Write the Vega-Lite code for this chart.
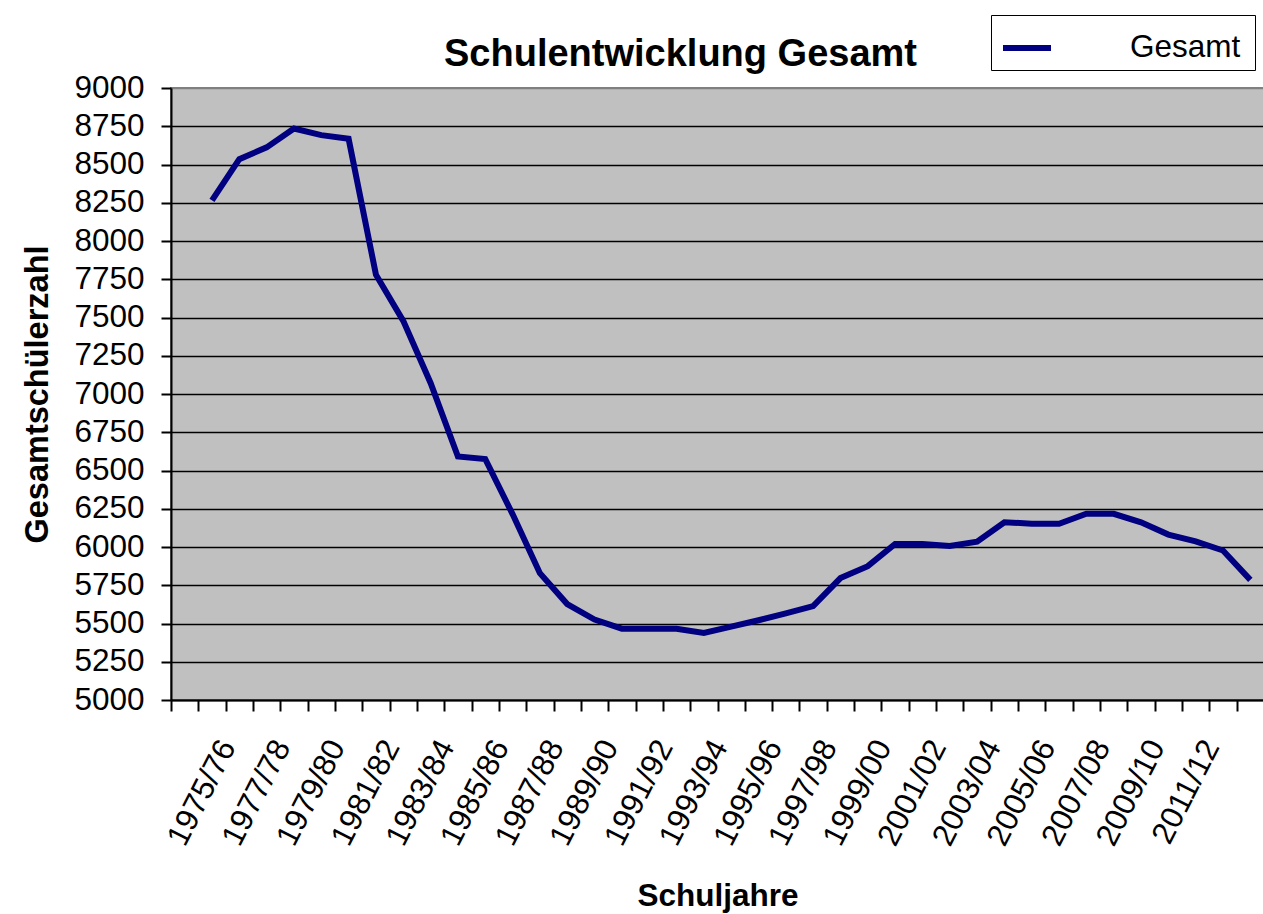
{
  "$schema": "https://vega.github.io/schema/vega-lite/v6.json",
  "width": 1093,
  "height": 612,
  "autosize": {"type": "none"},
  "padding": {"left": 171, "top": 88, "right": 0, "bottom": 214},
  "background": "white",
  "title": {
    "text": "Schulentwicklung Gesamt",
    "font": "Liberation Sans",
    "fontSize": 38,
    "fontWeight": "bold",
    "color": "black",
    "anchor": "middle",
    "dx": -37,
    "offset": -59
  },
  "data": {
    "values": [
      {"Schuljahr": "1975/76", "Gesamt": 8265, "Reihe": "Gesamt"},
      {"Schuljahr": "1976/77", "Gesamt": 8535, "Reihe": "Gesamt"},
      {"Schuljahr": "1977/78", "Gesamt": 8612, "Reihe": "Gesamt"},
      {"Schuljahr": "1978/79", "Gesamt": 8735, "Reihe": "Gesamt"},
      {"Schuljahr": "1979/80", "Gesamt": 8692, "Reihe": "Gesamt"},
      {"Schuljahr": "1980/81", "Gesamt": 8668, "Reihe": "Gesamt"},
      {"Schuljahr": "1981/82", "Gesamt": 7780, "Reihe": "Gesamt"},
      {"Schuljahr": "1982/83", "Gesamt": 7478, "Reihe": "Gesamt"},
      {"Schuljahr": "1983/84", "Gesamt": 7072, "Reihe": "Gesamt"},
      {"Schuljahr": "1984/85", "Gesamt": 6592, "Reihe": "Gesamt"},
      {"Schuljahr": "1985/86", "Gesamt": 6575, "Reihe": "Gesamt"},
      {"Schuljahr": "1986/87", "Gesamt": 6215, "Reihe": "Gesamt"},
      {"Schuljahr": "1987/88", "Gesamt": 5829, "Reihe": "Gesamt"},
      {"Schuljahr": "1988/89", "Gesamt": 5627, "Reihe": "Gesamt"},
      {"Schuljahr": "1989/90", "Gesamt": 5526, "Reihe": "Gesamt"},
      {"Schuljahr": "1990/91", "Gesamt": 5466, "Reihe": "Gesamt"},
      {"Schuljahr": "1991/92", "Gesamt": 5466, "Reihe": "Gesamt"},
      {"Schuljahr": "1992/93", "Gesamt": 5466, "Reihe": "Gesamt"},
      {"Schuljahr": "1993/94", "Gesamt": 5438, "Reihe": "Gesamt"},
      {"Schuljahr": "1994/95", "Gesamt": 5480, "Reihe": "Gesamt"},
      {"Schuljahr": "1995/96", "Gesamt": 5521, "Reihe": "Gesamt"},
      {"Schuljahr": "1996/97", "Gesamt": 5566, "Reihe": "Gesamt"},
      {"Schuljahr": "1997/98", "Gesamt": 5614, "Reihe": "Gesamt"},
      {"Schuljahr": "1998/99", "Gesamt": 5797, "Reihe": "Gesamt"},
      {"Schuljahr": "1999/00", "Gesamt": 5875, "Reihe": "Gesamt"},
      {"Schuljahr": "2000/01", "Gesamt": 6020, "Reihe": "Gesamt"},
      {"Schuljahr": "2001/02", "Gesamt": 6020, "Reihe": "Gesamt"},
      {"Schuljahr": "2002/03", "Gesamt": 6007, "Reihe": "Gesamt"},
      {"Schuljahr": "2003/04", "Gesamt": 6035, "Reihe": "Gesamt"},
      {"Schuljahr": "2004/05", "Gesamt": 6162, "Reihe": "Gesamt"},
      {"Schuljahr": "2005/06", "Gesamt": 6152, "Reihe": "Gesamt"},
      {"Schuljahr": "2006/07", "Gesamt": 6152, "Reihe": "Gesamt"},
      {"Schuljahr": "2007/08", "Gesamt": 6217, "Reihe": "Gesamt"},
      {"Schuljahr": "2008/09", "Gesamt": 6217, "Reihe": "Gesamt"},
      {"Schuljahr": "2009/10", "Gesamt": 6161, "Reihe": "Gesamt"},
      {"Schuljahr": "2010/11", "Gesamt": 6081, "Reihe": "Gesamt"},
      {"Schuljahr": "2011/12", "Gesamt": 6037, "Reihe": "Gesamt"},
      {"Schuljahr": "2012/13", "Gesamt": 5977, "Reihe": "Gesamt"},
      {"Schuljahr": "2013/14", "Gesamt": 5785, "Reihe": "Gesamt"}
    ]
  },
  "mark": {"type": "line", "strokeWidth": 6},
  "encoding": {
    "x": {
      "field": "Schuljahr",
      "type": "ordinal",
      "bandPosition": 0.5,
      "scale": {
        "type": "band",
        "paddingInner": 0,
        "paddingOuter": 0,
        "domain": ["", "1975/76", "1976/77", "1977/78", "1978/79", "1979/80", "1980/81", "1981/82", "1982/83", "1983/84", "1984/85", "1985/86", "1986/87", "1987/88", "1988/89", "1989/90", "1990/91", "1991/92", "1992/93", "1993/94", "1994/95", "1995/96", "1996/97", "1997/98", "1998/99", "1999/00", "2000/01", "2001/02", "2002/03", "2003/04", "2004/05", "2005/06", "2006/07", "2007/08", "2008/09", "2009/10", "2010/11", "2011/12", "2012/13", "2013/14"]
      },
      "axis": {
        "title": "Schuljahre",
        "titleFont": "Liberation Sans",
        "titleFontSize": 31.5,
        "titleFontWeight": "bold",
        "titleColor": "black",
        "titlePadding": 30,
        "labelExpr": "datum.value != '' && datum.value < '2012' && toNumber(slice(datum.value, 0, 4)) % 2 == 1 ? datum.value : ''",
        "labelAngle": -63,
        "labelFont": "Liberation Sans",
        "labelFontSize": 31.5,
        "labelColor": "black",
        "labelOverlap": false,
        "labelBound": false,
        "labelFlush": false,
        "labelOffset": 16,
        "labelPadding": 31,
        "tickBand": "extent",
        "ticks": true,
        "tickColor": "black",
        "tickWidth": 2,
        "tickSize": 11,
        "domainColor": "black",
        "domainWidth": 2,
        "grid": false
      }
    },
    "y": {
      "field": "Gesamt",
      "type": "quantitative",
      "scale": {"domain": [5000, 9000], "nice": false, "zero": false},
      "axis": {
        "title": "Gesamtschülerzahl",
        "titleFont": "Liberation Sans",
        "titleFontSize": 32.5,
        "titleFontWeight": "bold",
        "titleColor": "black",
        "titlePadding": 19,
        "values": [5000, 5250, 5500, 5750, 6000, 6250, 6500, 6750, 7000, 7250, 7500, 7750, 8000, 8250, 8500, 8750, 9000],
        "format": "d",
        "labelFont": "Liberation Sans",
        "labelFontSize": 31.5,
        "labelColor": "black",
        "labelPadding": 17,
        "labelOverlap": false,
        "labelBound": false,
        "labelFlush": false,
        "tickColor": "black",
        "tickWidth": 2,
        "tickSize": 10,
        "domainColor": "black",
        "domainWidth": 2,
        "grid": true,
        "gridColor": {"condition": {"test": "datum.value == 9000", "value": "#808080"}, "value": "black"},
        "gridWidth": 1.5,
        "gridOpacity": 1
      }
    },
    "color": {
      "field": "Reihe",
      "type": "nominal",
      "scale": {"range": ["#000080"]},
      "legend": {
        "title": " ",
        "titleOrient": "right",
        "titleFontSize": 1,
        "titlePadding": 9,
        "orient": "none",
        "legendX": 820,
        "legendY": -73,
        "padding": 6,
        "strokeColor": "black",
        "fillColor": "white",
        "symbolType": "stroke",
        "symbolSize": 2304,
        "symbolStrokeWidth": 6,
        "symbolOffset": 3,
        "labelOffset": 76,
        "labelFont": "Liberation Sans",
        "labelFontSize": 31.5,
        "labelColor": "black",
        "labelLimit": 0
      }
    }
  },
  "config": {
    "view": {"fill": "#C0C0C0", "stroke": "#808080", "strokeWidth": 2}
  }
}
